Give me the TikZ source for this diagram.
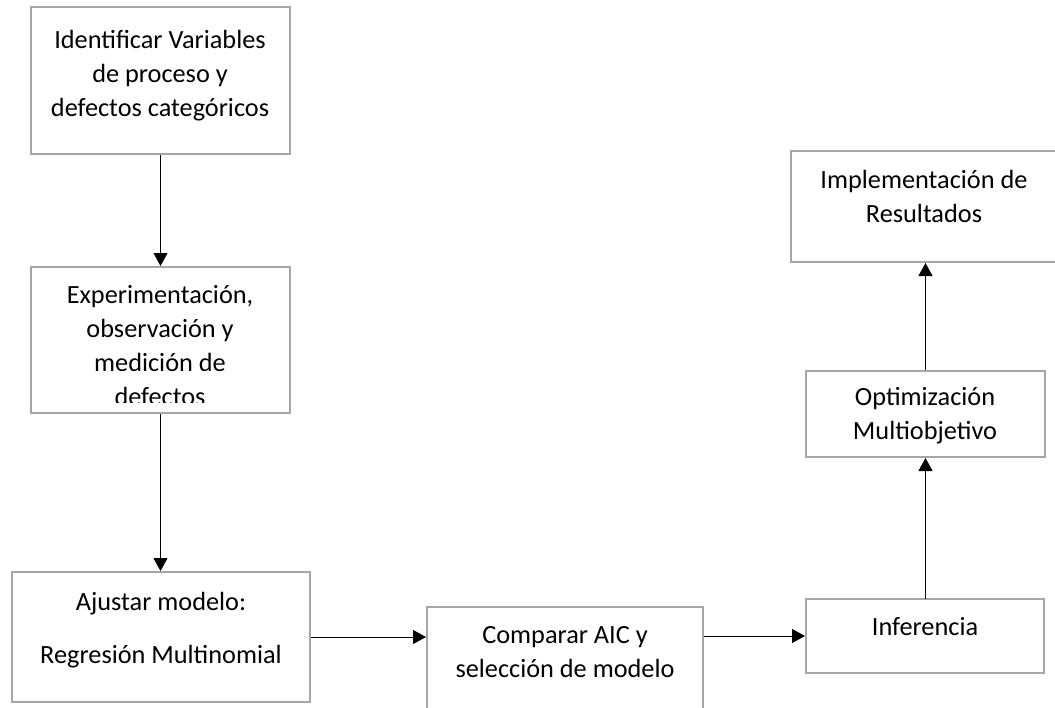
\documentclass[tikz,border=0pt]{standalone}
\usepackage{fontspec}
\setmainfont{Carlito}
\usetikzlibrary{arrows.meta}
\definecolor{boxgray}{RGB}{166,166,166}
\newcommand{\firstline}{\rule{0pt}{25pt}}
\begin{document}
\begin{tikzpicture}[x=1pt,y=-1pt,
  box/.style={draw=boxgray, line width=2pt, inner sep=0pt, outer sep=1pt},
  txt/.style={anchor=north, inner sep=0pt, align=center, font=\fontsize{26.3}{34}\selectfont, text=black},
  arr/.style={-{Triangle[length=13pt,width=14pt]}, line width=1pt, black}]
\useasboundingbox (0,0) rectangle (1055,707);
% boxes
\node[box, minimum width=259pt, minimum height=147pt] (b1) at (160.5,80.5) {};
\node[box, minimum width=259pt, minimum height=146pt] (b2) at (160.5,340) {};
\node[box, minimum width=298pt, minimum height=130pt] (b3) at (161,637) {};
\node[box, minimum width=276pt, minimum height=130pt] (b4) at (565,672) {};
\node[box, minimum width=238pt, minimum height=74pt] (b5) at (925,636) {};
\node[box, minimum width=239pt, minimum height=86pt] (b6) at (925.5,414) {};
\node[box, minimum width=268pt, minimum height=111pt] (b7) at (925,206.5) {};
% texts
\node[txt] (t1) at (160,23) {\firstline Identificar Variables\\de proceso y\\defectos categóricos};
\begin{scope}
\clip (31,267) rectangle (290,402);
\node[txt] (t2) at (160,278.5) {\firstline Experimentación,\\observación y\\medición de\\defectos};
\end{scope}
\node[txt] (t3) at (161,585) {\firstline Ajustar modelo:\\[19pt]Regresión Multinomial};
\node[txt] (t4) at (565,618) {\firstline Comparar AIC y\\selección de modelo};
\node[txt] (t5) at (925,610) {\firstline Inferencia};
\node[txt] (t6) at (925,380) {\firstline Optimización\\Multiobjetivo};
\node[txt] (t7) at (924,163) {\firstline Implementación de\\Resultados};
% connectors
\draw[arr] (b1.south) -- (b2.north);
\draw[arr] (b2.south) -- (b2.south |- b3.north);
\draw[arr] (b3.east) -- (b4.west |- b3.east);
\draw[arr] (b4.east |- b5.west) -- (b5.west);
\draw[arr] (b5.north) -- (b5.north -| b6.south) -- (b6.south);
\draw[arr] (b6.north) -- (b6.north |- b7.south);
\end{tikzpicture}
\end{document}
